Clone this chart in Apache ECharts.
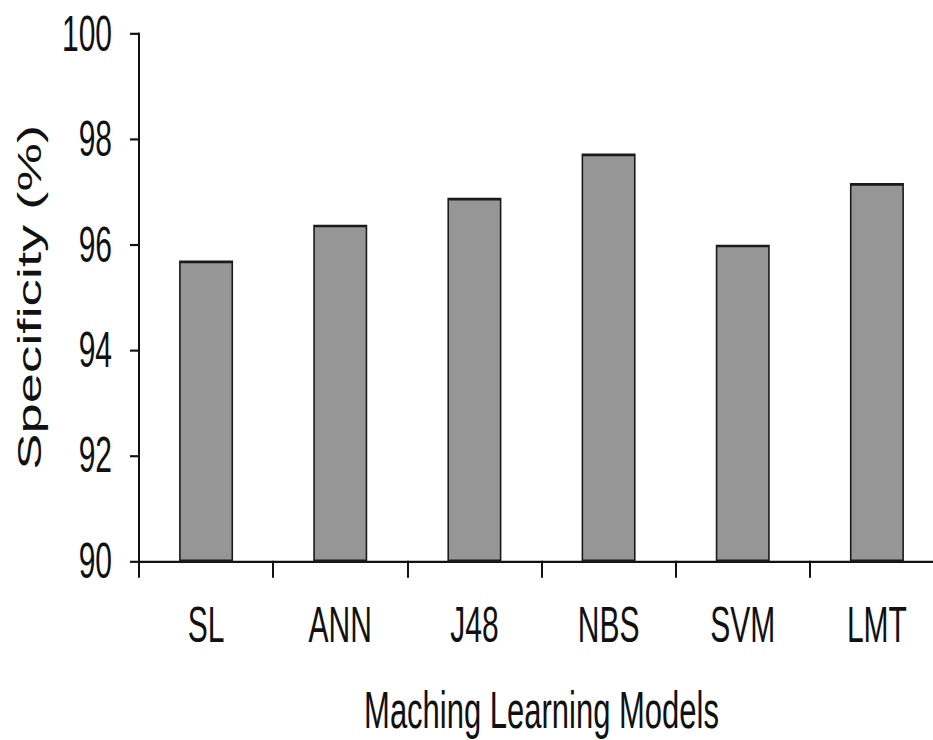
<!DOCTYPE html>
<html>
<head>
<meta charset="utf-8">
<script src="https://cdn.jsdelivr.net/npm/echarts@6/dist/echarts.min.js"></script>
<style>
  html, body { margin: 0; padding: 0; background: #ffffff; overflow: hidden; }
  #wrap { width: 933px; height: 740px; overflow: hidden; position: relative; }
  #chart { width: 933px; height: 448.5px; transform-origin: 0 0; transform: scale(1, 1.65); }
</style>
</head>
<body>
<div id="wrap"><div id="chart"></div></div>
<script>
const categories = ['SL', 'ANN', 'J48', 'NBS', 'SVM', 'LMT'];
const specificity = [95.7, 96.38, 96.89, 97.73, 96.0, 97.17];
const yTicks = { min: 90, max: 100, interval: 2 };
const xTitle = 'Maching Learning Models';
const yTitle = 'Specificity (%)';

const FONT = 'Liberation Sans';
const chart = echarts.init(document.getElementById('chart'), null, { renderer: 'svg' });
chart.setOption({
  backgroundColor: '#ffffff',
  animation: false,
  grid: { left: 139, right: -11, top: 20.6, bottom: 109.1, containLabel: false, outerBoundsMode: 'none' },
  xAxis: {
    type: 'category',
    data: categories,
    boundaryGap: true,
    name: xTitle,
    nameLocation: 'middle',
    nameGap: 75,
    nameTextStyle: { fontFamily: FONT, fontWeight: 'normal', fontSize: 31, color: '#111' },
    axisLine: { show: true, lineStyle: { color: '#111', width: 1.3 } },
    axisTick: { show: true, inside: false, length: 10.3, alignWithLabel: false, lineStyle: { color: '#111', width: 2 } },
    axisLabel: { margin: 24, fontFamily: FONT, fontWeight: 'normal', fontSize: 30, color: '#111' },
    splitLine: { show: false }
  },
  yAxis: {
    type: 'value',
    min: yTicks.min,
    max: yTicks.max,
    interval: yTicks.interval,
    name: yTitle,
    nameLocation: 'middle',
    nameGap: 93,
    nameRotate: 90,
    nameTextStyle: { fontFamily: FONT, fontWeight: 'normal', fontSize: 33, color: '#111' },
    axisLine: { show: true, lineStyle: { color: '#111', width: 2 } },
    axisTick: { show: true, inside: false, length: 9, lineStyle: { color: '#111', width: 1.3 } },
    axisLabel: { margin: 27, fontFamily: FONT, fontWeight: 'normal', fontSize: 30, color: '#111' },
    splitLine: { show: false }
  },
  series: [{
    type: 'bar',
    data: specificity,
    barWidth: 54,
    itemStyle: { color: '#969696', borderColor: '#1a1a1a', borderWidth: 1.6 },
    label: { show: false }
  }]
});
</script>
</body>
</html>
